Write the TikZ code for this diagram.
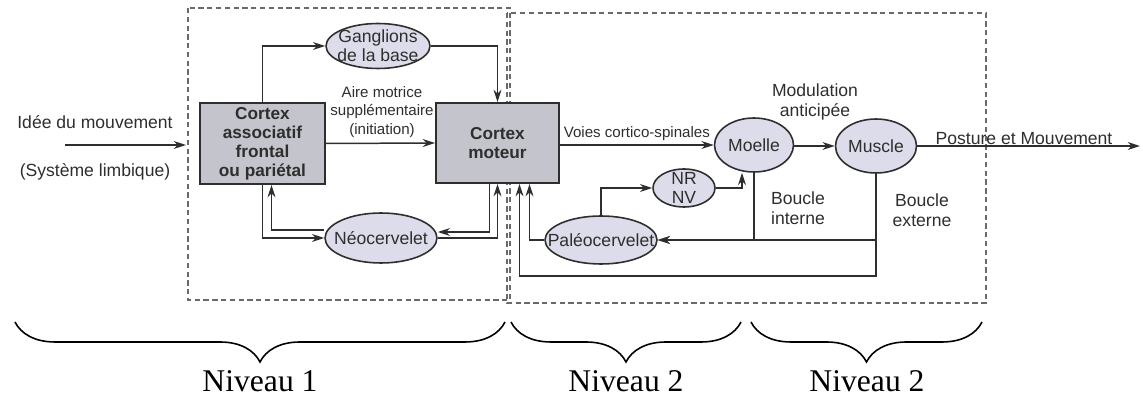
\documentclass[tikz,border=0pt]{standalone}
\usepackage{fontspec}
\setmainfont{Liberation Sans}
\newfontfamily\timesf{Liberation Serif}
\usepackage{xcolor}
\usepackage{tikz}
\usetikzlibrary{calc,shapes.geometric,arrows.meta,decorations.pathreplacing}
\definecolor{ink}{HTML}{2E2E2E}
\definecolor{boxgray}{HTML}{C4C4CC}
\definecolor{ovalfill}{HTML}{DCDCEA}
\definecolor{zonegray}{HTML}{6A6A6A}
\tikzset{
  box/.style={draw=ink, fill=boxgray, line width=1.1pt, inner sep=0pt, align=center,
    font=\bfseries\fontsize{9.8}{10.8}\selectfont},
  oval/.style={ellipse, draw=ink, fill=ovalfill, line width=0.9pt, inner sep=0pt},
  ovaltxt/.style={align=center, font=\fontsize{10}{11}\selectfont},
  link/.style={draw=ink, line width=0.85pt, -{Stealth[length=7pt,width=4.5pt]}},
  zone/.style={draw=zonegray, line width=0.8pt, dash pattern=on 3pt off 2pt},
  note/.style={align=center, font=\fontsize{10}{11.5}\selectfont},
  small/.style={align=center, font=\fontsize{8.6}{10.4}\selectfont},
  brc/.style={draw=black, line width=0.9pt, decorate, decoration={brace, mirror, amplitude=0.8cm}},
  lvl/.style={font=\timesf\fontsize{18}{20}\selectfont, text=black},
  every node/.style={text=ink}
}
\newcommand{\Oval}[5]{%
  \node[oval, minimum width=#3, minimum height=#4] (#1) at (#2) {};
  \node[ovaltxt] (#1-t) at (#1) {#5};
}

\begin{document}
\begin{tikzpicture}[x=0.02cm,y=-0.02cm]
  \useasboundingbox (0,0) rectangle (1143,398);

  % the two levels
  \draw[zone] (188,8) rectangle (510,300);
  \draw[zone] (507,13) rectangle (986,303);

  \node[box, minimum width=2.5cm, minimum height=1.62cm] (assoc) at (262.5,143.5)
    {Cortex\\associatif\\frontal\\ou pariétal};
  \node[box, minimum width=2.46cm, minimum height=1.6cm] (moteur) at (497.5,143)
    {Cortex\\moteur};

  \Oval{gang}{378,46}{2.08cm}{0.9cm}{Ganglions\\de la base}
  \Oval{neo}{381,238}{2.24cm}{1.0cm}{Néocervelet}
  \Oval{moelle}{754,145}{1.58cm}{1.08cm}{Moelle}
  \Oval{muscle}{876,146}{1.62cm}{1.08cm}{Muscle}
  \Oval{nrnv}{684,188}{1.24cm}{0.76cm}{NR\\NV}
  \Oval{paleo}{601,240}{2.24cm}{0.96cm}{Paléocervelet}

  \node[note] (idee) at (95,122) {Idée du mouvement};
  \node[note] (limb) at (95,172) {(Système limbique)};
  \coordinate (in0) at (65,145);
  \coordinate (in1) at (186,145);
  \draw[link] (in0) -- (in1);

  % level 1
  \draw[link] (assoc.north) |- (gang.west);
  \draw[link] (gang.east) -| (moteur.north);
  \draw[link] (assoc.east) -- (moteur.west);
  \node[small] (aire) at (382,112) {Aire motrice\\supplémentaire\\(initiation)};
  \draw[link] (assoc.south) |- (neo.west);
  \draw[link] ($(neo.west)+(0,-8)$) -| ($(assoc.south)+(9,0)$);
  \draw[link] ($(moteur.south)+(-8,0)$) |- ($(neo.east)+(0,-6)$);
  \draw[link] (neo.east) -| (moteur.south);

  % level 2
  \draw[link] (moelle.west -| moteur.east) -- (moelle.west)
    node[small, midway, above=-1pt] (voies) {Voies cortico-spinales};
  \draw[link] (muscle.west -| moelle.east) -- (muscle.west);
  \coordinate (out) at (1140,146);
  \draw[link] (muscle.east) -- (out);
  \node[note] (post) at (1024,139) {Posture et Mouvement};
  \node[note] (modul) at (815,102) {Modulation\\anticipée};

  \draw[link] (paleo.north) |- (nrnv.west);
  \draw[link] (nrnv.east) -| ($(moelle.south)+(-12,0)$);
  \draw[link] (moelle.south) |- (paleo.east);
  \draw[link] (muscle.south) |- (paleo.east);
  \draw[link] (muscle.south) -- ++(0,102) -| ($(moteur.south)+(22,0)$);
  \draw[link] (paleo.west) -| ($(moteur.south)+(32,0)$);
  \node[note] (bint) at (798,208) {Boucle\\interne};
  \node[note] (bext) at (922,210) {Boucle\\externe};

  % braces
  \coordinate (b0) at (15,322);
  \coordinate (b1) at (505,322);
  \coordinate (b2) at (511,322);
  \coordinate (b3) at (741,322);
  \coordinate (b4) at (751,322);
  \coordinate (b5) at (982,322);
  \draw[brc] (b0) -- (b1);
  \draw[brc] (b2) -- (b3);
  \draw[brc] (b4) -- (b5);
  \node[lvl] (lv1) at (260,381) {Niveau 1};
  \node[lvl] (lv2) at (626,381) {Niveau 2};
  \node[lvl] (lv3) at (867,381) {Niveau 2};
\end{tikzpicture}
\end{document}
